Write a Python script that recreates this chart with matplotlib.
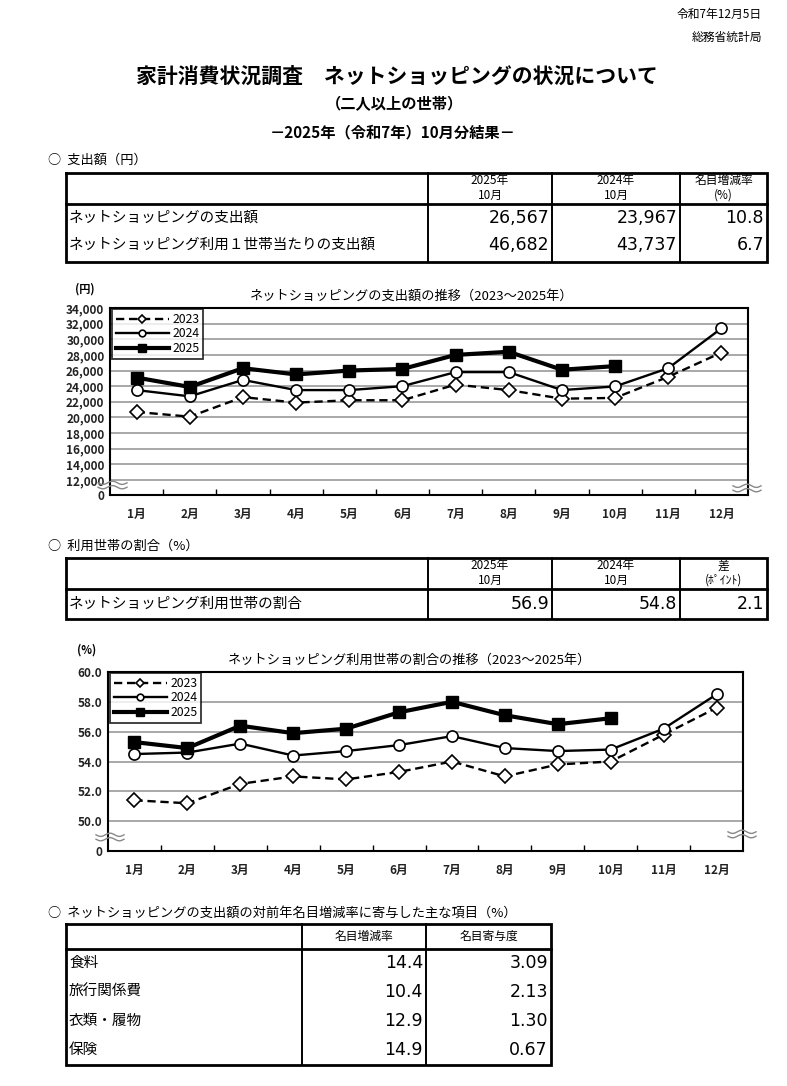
import numpy as np
import matplotlib
matplotlib.use("Agg")
import matplotlib.pyplot as plt
from matplotlib.lines import Line2D

plt.rcParams['font.family'] = ['Noto Sans CJK JP', 'DejaVu Sans']

# ---------------- data ----------------
months = ['1月', '2月', '3月', '4月', '5月', '6月', '7月', '8月', '9月', '10月', '11月', '12月']
series_names = ['2023', '2024', '2025']

spend_2023 = [20700, 20100, 22600, 21900, 22200, 22200, 24200, 23500, 22400, 22500, 25200, 28300]
spend_2024 = [23500, 22700, 24800, 23500, 23500, 24000, 25800, 25800, 23500, 23967, 26300, 31400]
spend_2025 = [25100, 23900, 26300, 25500, 26000, 26200, 28000, 28400, 26100, 26567]

share_2023 = [51.4, 51.2, 52.5, 53.0, 52.8, 53.3, 54.0, 53.0, 53.8, 54.0, 55.8, 57.6]
share_2024 = [54.5, 54.6, 55.2, 54.4, 54.7, 55.1, 55.7, 54.9, 54.7, 54.8, 56.2, 58.5]
share_2025 = [55.3, 54.9, 56.4, 55.9, 56.2, 57.3, 58.0, 57.1, 56.5, 56.9]

tbl1_rows = ['ネットショッピングの支出額', 'ネットショッピング利用１世帯当たりの支出額']
tbl1_head = ['2025年\n10月', '2024年\n10月', '名目増減率\n(%)']
tbl1_2025 = ['26,567', '46,682']
tbl1_2024 = ['23,967', '43,737']
tbl1_rate = ['10.8', '6.7']

tbl2_rows = ['ネットショッピング利用世帯の割合']
tbl2_head = ['2025年\n10月', '2024年\n10月', '差\n(ﾎﾟｲﾝﾄ)']
tbl2_2025 = ['56.9']
tbl2_2024 = ['54.8']
tbl2_diff = ['2.1']

tbl3_rows = ['食料', '旅行関係費', '衣類・履物', '保険']
tbl3_head = ['名目増減率', '名目寄与度']
tbl3_rate = ['14.4', '10.4', '12.9', '14.9']
tbl3_contrib = ['3.09', '2.13', '1.30', '0.67']

# ---------------- figure ----------------
W, H = 787, 1086
fig = plt.figure(figsize=(W / 100, H / 100), dpi=100)
fig.patch.set_facecolor('white')

bg = fig.add_axes([0, 0, 1, 1])
bg.set_xlim(0, W)
bg.set_ylim(H, 0)
bg.axis('off')


def px_axes(x0, y0, x1, y1):
    return fig.add_axes([x0 / W, 1 - y1 / H, (x1 - x0) / W, (y1 - y0) / H])


NUMF = ['DejaVu Sans']

# header texts
bg.text(762, 14, '令和7年12月5日', ha='right', va='center', fontsize=8.5)
bg.text(762, 37, '総務省統計局', ha='right', va='center', fontsize=8.5)
bg.text(397, 76, '家計消費状況調査　ネットショッピングの状況について', ha='center', va='center',
        fontsize=15, fontweight='bold')
bg.text(395, 104, '（二人以上の世帯）', ha='center', va='center', fontsize=11, fontweight='bold')
bg.text(393, 132, '－2025年（令和7年）10月分結果－', ha='center', va='center', fontsize=11,
        fontweight='bold')


def draw_table(x_lines, y_top, y_head, y_bot, row_ys, heads, labels, cols, head_y):
    lw_out = 2.0
    lw_in = 1.4
    x0, x1 = x_lines[0], x_lines[-1]
    bg.plot([x0, x1, x1, x0, x0], [y_top, y_top, y_bot, y_bot, y_top], color='black',
            lw=lw_out, solid_joinstyle='miter')
    bg.plot([x0, x1], [y_head, y_head], color='black', lw=lw_out)
    for xv in x_lines[1:-1]:
        bg.plot([xv, xv], [y_top, y_bot], color='black', lw=lw_in)
    for i, h in enumerate(heads):
        cx = (x_lines[i + 1] + x_lines[i + 2]) / 2
        bg.text(cx, head_y, h, ha='center', va='center', fontsize=8.5, linespacing=1.15)
    for r, lab in enumerate(labels):
        bg.text(x0 + 3, row_ys[r], lab, ha='left', va='center', fontsize=10.5)
        for c, col in enumerate(cols):
            bg.text(x_lines[c + 2] - 3, row_ys[r], col[r], ha='right', va='center',
                    fontsize=12.5, family=NUMF)


# Section 1
bg.text(48, 160, '○  支出額（円）', ha='left', va='center', fontsize=9.5)
draw_table([66, 428, 552, 680, 767], 173, 204, 262, [218, 245], tbl1_head, tbl1_rows,
           [tbl1_2025, tbl1_2024, tbl1_rate], 188)

# Section 2
bg.text(48, 546, '○  利用世帯の割合（%）', ha='left', va='center', fontsize=9.5)
draw_table([66, 428, 552, 680, 767], 558, 589, 619, [604], tbl2_head, tbl2_rows,
           [tbl2_2025, tbl2_2024, tbl2_diff], 573)

# Section 3
bg.text(48, 913, '○  ネットショッピングの支出額の対前年名目増減率に寄与した主な項目（%）',
        ha='left', va='center', fontsize=9.5)
draw_table([66, 302, 426, 551], 924, 949, 1065, [963, 992, 1021, 1050], tbl3_head, tbl3_rows,
           [tbl3_rate, tbl3_contrib], 936)

x = np.arange(12)
styles = [
    dict(color='black', ls=(0, (3.5, 2)), lw=1.7, marker='D', ms=7, mfc='white', mec='black', mew=1.2),
    dict(color='black', ls='-', lw=1.7, marker='o', ms=8, mfc='white', mec='black', mew=1.2),
    dict(color='black', ls='-', lw=3.0, marker='s', ms=8.5, mfc='black', mec='black', mew=1.0),
]
TICKF = ['Liberation Sans Narrow', 'Noto Sans CJK JP']


def make_chart(box, data, ylo, ybase, ytop, ystep, fmt, title, title_xy, unit_xy, unit):
    ax = px_axes(*box)
    for s, d in zip(styles, data):
        ax.plot(x[:len(d)], d, zorder=3, **s)
    ax.set_xlim(-0.5, 11.5)
    ax.set_ylim(ylo, ytop)
    ticks = [ylo] + list(np.arange(ybase, ytop + ystep / 2, ystep))
    ax.set_yticks(ticks)
    ax.set_yticklabels(['0'] + [fmt(t) for t in ticks[1:]], fontsize=8.5, family=TICKF,
                       fontweight='bold', color='#222222')
    ax.tick_params(axis='y', length=0, pad=4)
    for t in ticks[1:-1]:
        ax.axhline(t, color='#9a9a9a', lw=1.2, zorder=1)
    ax.set_xticks(np.arange(0.5, 11, 1))
    ax.set_xticklabels([])
    ax.tick_params(axis='x', which='major', direction='in', length=4, width=1)
    ax.set_xticks(x, minor=True)
    ax.set_xticklabels(months, minor=True, fontsize=8.5, fontweight='bold', color='#222222')
    ax.tick_params(axis='x', which='minor', length=0, pad=9)
    for sp in ax.spines.values():
        sp.set_linewidth(1.5)
        sp.set_color('black')
    handles = [Line2D([], [], **s) for s in styles]
    for h in handles:
        h.set_markersize(h.get_markersize() * 0.6)
    leg = ax.legend(handles, series_names, loc='upper left', bbox_to_anchor=(0.003, 0.993),
                    frameon=True, fancybox=False, edgecolor='black',
                    handlelength=4.4, handletextpad=0.25, borderpad=0.3, labelspacing=0.12,
                    borderaxespad=0.0, prop={'family': TICKF, 'size': 8.8})
    leg.get_frame().set_linewidth(1.3)
    leg.set_zorder(5)
    bg.text(title_xy[0], title_xy[1], title, ha='center', va='center', fontsize=9.5)
    bg.text(unit_xy[0], unit_xy[1], unit, ha='center', va='center', fontsize=8, fontweight='bold')
    return ax


ax1 = make_chart((110, 308, 748, 495), [spend_2023, spend_2024, spend_2025], 10080, 12000, 34000, 2000,
                 lambda v: f'{int(v):,}', 'ネットショッピングの支出額の推移（2023～2025年）',
                 (412, 296), (85, 289), '(円)')
ax2 = make_chart((108, 672, 743, 851), [share_2023, share_2024, share_2025], 48.0, 50.0, 60.0, 2.0,
                 lambda v: f'{v:.1f}', 'ネットショッピング利用世帯の割合の推移（2023～2025年）',
                 (410, 660), (87, 650), '(%)')

# break marks (decoration)
ov = fig.add_axes([0, 0, 1, 1], zorder=10)
ov.set_xlim(0, W)
ov.set_ylim(H, 0)
ov.axis('off')
ov.patch.set_alpha(0)


def wave(xa, xb, yc):
    t = np.linspace(0, 1, 60)
    xs = xa + (xb - xa) * t
    for dy in (-2.2, 2.2):
        ov.plot(xs, yc + dy + 1.6 * np.sin(t * 2 * np.pi * 1.5), color='#888888', lw=1.0)


wave(98, 127, 485)
wave(733, 761, 488)
wave(96, 124, 837)
wave(728, 756, 834)

fig.savefig('out.png', dpi=100, facecolor='white')
